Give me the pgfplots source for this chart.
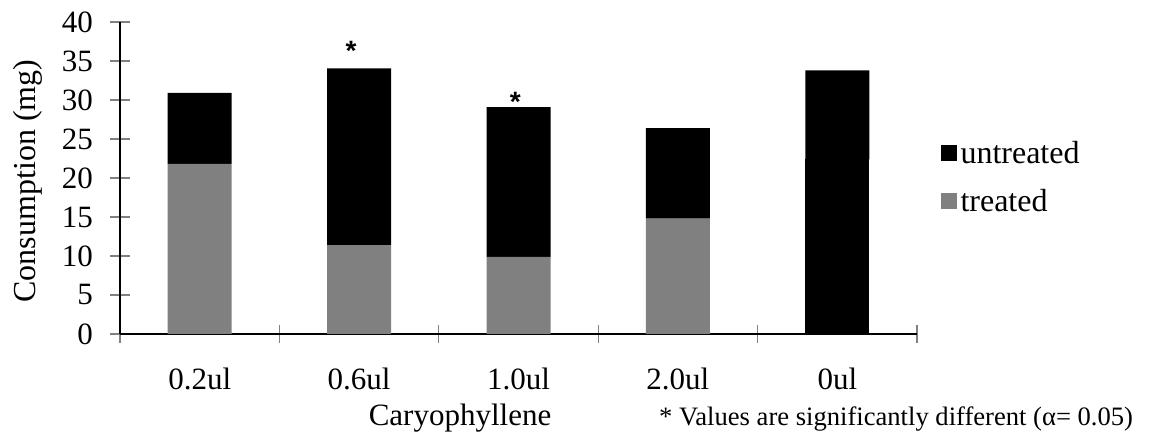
\documentclass[border=0pt]{standalone}
\usepackage{fontspec}
\setmainfont{Liberation Serif}
\newfontfamily\sansf{Liberation Sans}
\usepackage{pgfplots}
\pgfplotsset{compat=1.18}
\begin{document}
\begin{tikzpicture}[x=1pt,y=1pt]
\useasboundingbox (0,0) rectangle (574.5,221.5);
\begin{axis}[
  at={(60pt,54.5pt)}, anchor=south west,
  scale only axis, width=398.5pt, height=156pt,
  clip=false,
  ybar stacked, bar width=32pt, bar shift=0pt,
  xmin=-0.5, xmax=4.5, ymin=0, ymax=40,
  axis lines*=left,
  axis line style={black, line width=0.6pt},
  xtick={0,1,2,3,4}, xticklabels={0.2ul,0.6ul,1.0ul,2.0ul,0ul},
  major x tick style={draw=none},
  minor xtick={-0.5,0.5,1.5,2.5,3.5,4.5},
  minor tick length=9pt,
  ytick={0,5,...,40},
  major tick length=10pt,
  tick align=center,
  every tick/.style={gray, line width=0.6pt},
  minor x tick style={gray, line width=0.6pt},
  /pgf/number format/assume math mode=true,
  ticklabel style={font=\fontsize{15.5}{18}\selectfont},
  xticklabel style={yshift=-8.5pt},
  yticklabel style={xshift=-5pt},
  every axis y label/.style={at={(axis description cs:-0.1154,0.49)}, rotate=90, anchor=center, font=\fontsize{16}{19}\selectfont},
  every axis x label/.style={at={(axis description cs:0.4266,-0.292)}, anchor=base, font=\fontsize{15.5}{18}\selectfont},
  ylabel={Consumption (mg)},
  xlabel={Caryophyllene},
  legend style={at={(1.029,0.5)}, anchor=west, draw=none, fill=none, inner sep=0pt,
    font=\fontsize{16}{19}\selectfont, row sep=7pt, cells={anchor=west}},
  reverse legend,
  legend image code/.code={\fill[#1] (0pt,-3.5pt) rectangle (8pt,4.5pt);},
]
\addplot[fill=gray, draw=none] coordinates {(0,21.8) (1,11.4) (2,9.9) (3,14.8) (4,0)};
\addlegendentry{treated}
\addplot[fill=black, draw=none, forget plot] coordinates {(0,0) (1,0) (2,0) (3,0) (4,22.4)};
\addplot[fill=black, draw=none] coordinates {(0,9.1) (1,22.65) (2,19.2) (3,11.6) (4,11.4)};
\addlegendentry{untreated}
\node[font=\sansf\bfseries\fontsize{14}{16}\selectfont, inner sep=0pt] at (axis cs:0.95,36.3) {*};
\node[font=\sansf\bfseries\fontsize{14}{16}\selectfont, inner sep=0pt] at (axis cs:1.98,29.8) {*};
\node[font=\fontsize{13.3}{16}\selectfont, anchor=base west, inner sep=0pt] at (axis description cs:0.676,-0.292) {* Values are significantly different (α= 0.05)};
\end{axis}
\end{tikzpicture}
\end{document}
